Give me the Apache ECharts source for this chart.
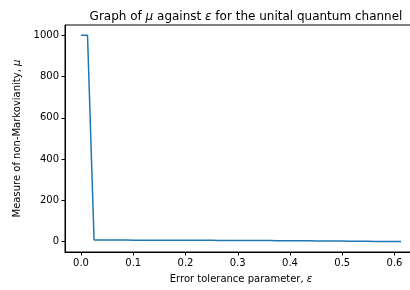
<!DOCTYPE html>
<html>
<head>
<meta charset="utf-8">
<script src="https://cdn.jsdelivr.net/npm/echarts@6/dist/echarts.min.js"></script>
<style>
  html, body { margin: 0; padding: 0; background: #fff; }
  #chart { width: 410px; height: 290px; }
</style>
</head>
<body>
<div id="chart"></div>
<script>
// epsilon values, step 0.0125
var epsilon = [];
for (var k = 0; k < 50; k++) { epsilon.push(+(k * 0.0125).toFixed(4)); }

var mu = [1000, 1000,
  8.0, 7.9, 7.8, 7.8, 7.7, 7.6, 7.5, 7.5, 7.4, 7.3,
  7.2, 7.1, 7.0, 6.9, 6.8, 6.7, 6.6, 6.5, 6.4, 6.3,
  6.2, 6.0, 5.9, 5.8, 5.6, 5.5, 5.3, 5.2, 5.0, 4.8,
  4.6, 4.4, 4.2, 4.0, 3.8, 3.5, 3.3, 3.0, 2.7, 2.4,
  2.1, 1.8, 1.5, 1.2, 1.0, 0.8, 0.6, 0.5];

var xTicks = [0, 0.1, 0.2, 0.3, 0.4, 0.5, 0.6];
var yTicks = [0, 200, 400, 600, 800, 1000];

var chart = echarts.init(document.getElementById('chart'));

var font = 'DejaVu Sans';
var points = epsilon.map(function (e, i) { return [e, mu[i]]; });

var option = {
  animation: false,
  textStyle: { fontFamily: font },
  title: {
    text: 'Graph of {i|μ} against {i|ε} for the unital quantum channel',
    left: 241,
    textAlign: 'center',
    top: 6,
    textStyle: {
      fontFamily: font, fontSize: 12, fontWeight: 'normal', color: '#000',
      rich: { i: { fontFamily: font, fontSize: 12, fontStyle: 'italic', color: '#000' } }
    }
  },
  grid: {
    left: 65, width: 352, top: 25, height: 227,
    outerBoundsMode: 'none',
    containLabel: false,
    show: true, borderColor: '#000', borderWidth: 1, backgroundColor: 'transparent'
  },
  xAxis: {
    type: 'value',
    min: -0.0306,
    max: 0.643,
    name: 'Error tolerance parameter, {i|ε}',
    nameLocation: 'middle',
    nameGap: 22,
    nameTextStyle: {
      fontFamily: font, fontSize: 10, color: '#000',
      rich: { i: { fontFamily: font, fontSize: 10, fontStyle: 'italic', color: '#000' } }
    },
    axisLine: { show: true, onZero: false, lineStyle: { color: '#000', width: 1 } },
    axisTick: { show: true, length: 3.5, customValues: xTicks, lineStyle: { color: '#000' } },
    axisLabel: {
      customValues: xTicks, margin: 6, fontSize: 10, color: '#000', fontFamily: font,
      formatter: function (v) { return v.toFixed(1); }
    },
    splitLine: { show: false }
  },
  yAxis: {
    type: 'value',
    min: -50,
    max: 1050,
    name: 'Measure of non-Markovianity, {i|μ}',
    nameLocation: 'middle',
    nameGap: 37,
    nameTextStyle: {
      fontFamily: font, fontSize: 10, color: '#000',
      rich: { i: { fontFamily: font, fontSize: 10, fontStyle: 'italic', color: '#000' } }
    },
    axisLine: { show: true, onZero: false, lineStyle: { color: '#000', width: 1 } },
    axisTick: { show: true, length: 3.5, customValues: yTicks, lineStyle: { color: '#000' } },
    axisLabel: {
      customValues: yTicks, margin: 6, fontSize: 10, color: '#000', fontFamily: font,
      formatter: function (v) { return String(v); }
    },
    splitLine: { show: false }
  },
  series: [{
    type: 'line',
    data: points,
    showSymbol: false,
    lineStyle: { color: '#1f77b4', width: 1.5 },
    clip: true
  }]
};

chart.setOption(option);
</script>
</body>
</html>
